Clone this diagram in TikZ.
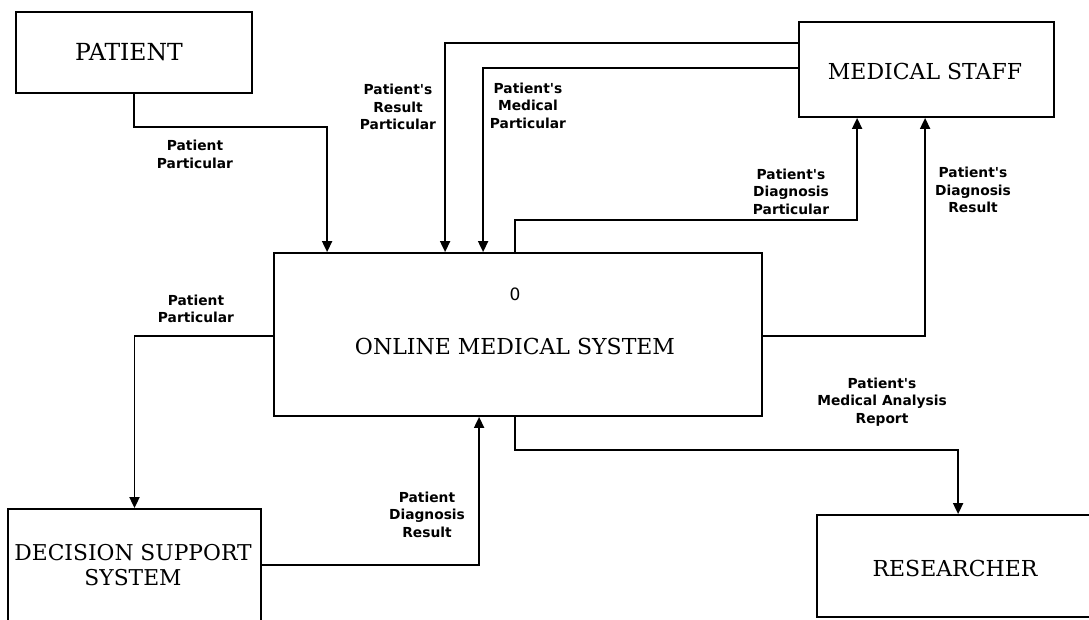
\documentclass[tikz,border=0pt]{standalone}
\usepackage{fontspec}
\newfontfamily\labfont{DejaVu Sans}
\newfontfamily\boxfont{DejaVu Serif}
\usetikzlibrary{arrows.meta}
\tikzset{
  box/.style={draw, line width=1.8pt, inner sep=0pt},
  boxtext/.style={font=\boxfont\fontsize{22}{25.5}\selectfont, align=center, inner sep=0pt},
  lbl/.style={font=\labfont\bfseries\fontsize{13.8}{17.5}\selectfont, align=center, inner sep=0pt},
  flow/.style={draw, line width=1.8pt, line join=miter, -{Triangle[length=11pt,width=10pt]}}
}
\begin{document}
\begin{tikzpicture}[x=1pt,y=-1pt]
\useasboundingbox (0,0) rectangle (1089,620);
\clip (0,0) rectangle (1089,620);
% boxes
\node[box, minimum width=236pt, minimum height=81pt] (pat) at (134,52.5) {};
\node[boxtext, font=\boxfont\fontsize{23.5}{26}\selectfont] (pattxt) at (129,52.5) {PATIENT};
\node[box, minimum width=255pt, minimum height=95pt] (staff) at (926.5,69.5) {};
\node[boxtext] (stafftxt) at (925,71) {MEDICAL STAFF};
\node[box, minimum width=488pt, minimum height=163pt] (oms) at (518,334.5) {};
\node[font=\labfont\fontsize{17}{20}\selectfont, inner sep=0pt] (omsnum) at (515,294) {0};
\node[boxtext] (omstxt) at (515,346) {ONLINE MEDICAL SYSTEM};
\node[box, minimum width=253pt, minimum height=113pt] (dss) at (134.5,565.5) {};
\node[boxtext, font=\boxfont\fontsize{21.8}{25}\selectfont] (dsstxt) at (133,565) {DECISION SUPPORT\\SYSTEM};
\node[box, minimum width=278pt, minimum height=102pt] (res) at (956,566) {};
\node[boxtext] (restxt) at (955,568) {RESEARCHER};
% connectors
\draw[flow] (pat.south) -- ++(0,33) -| ([xshift=54pt]oms.north west);
\draw[flow] ([yshift=-22pt]staff.north west) -| ([xshift=172pt]oms.north west);
\draw[flow] ([yshift=-47pt]staff.north west) -| ([xshift=210pt]oms.north west);
\draw[flow] ([xshift=242pt]oms.north west) -- ++(0,-32) -| ([xshift=59pt]staff.south west);
\draw[flow] ([yshift=-1.5pt]oms.east) -| ([xshift=127pt]staff.south west);
\draw[flow] ([yshift=-1.5pt]oms.west) -| (dss.north);
\draw[flow] ([yshift=-57pt]dss.north east) -| ([xshift=206pt]oms.south west);
\draw[flow] ([xshift=242pt]oms.south west) -- ++(0,33) -| ([xshift=142pt]res.north west);
% labels
\node[lbl] (l1) at (195,154.5) {Patient\\Particular};
\node[lbl] (l2) at (398,107) {Patient's\\Result\\Particular};
\node[lbl] (l3) at (528,105.5) {Patient's\\Medical\\Particular};
\node[lbl] (l4) at (791,191.5) {Patient's\\Diagnosis\\Particular};
\node[lbl] (l5) at (973,190) {Patient's\\Diagnosis\\Result};
\node[lbl] (l6) at (196,309) {Patient\\Particular};
\node[lbl] (l7) at (427,514.5) {Patient\\Diagnosis\\Result};
\node[lbl] (l8) at (882,402) {Patient's\\Medical Analysis\\Report};
\end{tikzpicture}
\end{document}
